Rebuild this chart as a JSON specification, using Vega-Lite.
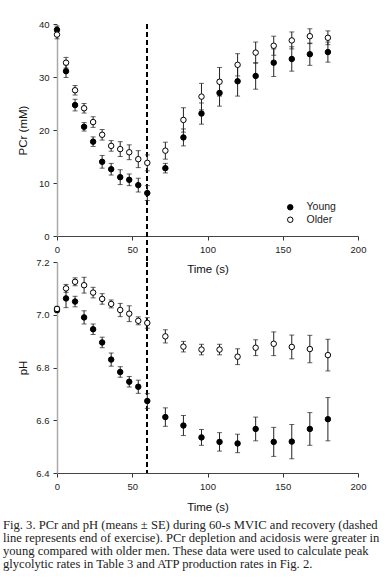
{
  "$schema": "https://vega.github.io/schema/vega-lite/v6.json",
  "padding": {"left": 3, "top": 19, "right": 0, "bottom": 0},
  "background": "white",
  "config": {
    "view": {"stroke": null},
    "font": "Liberation Sans",
    "axis": {"grid": false, "labelFont": "Liberation Sans", "titleFont": "Liberation Sans", "labelFontSize": 9.5, "titleFontSize": 11.5, "titleFontWeight": "normal", "labelColor": "#222", "titleColor": "#111", "tickColor": "#333", "tickSize": 4, "labelPadding": 4}
  },
  "datasets": {
    "pcr": [
      {"t": 0, "group": "Young", "mean": 38.9, "se": 0.7},
      {"t": 6, "group": "Young", "mean": 31.1, "se": 1.2},
      {"t": 12, "group": "Young", "mean": 24.7, "se": 1.1},
      {"t": 18, "group": "Young", "mean": 20.6, "se": 0.8},
      {"t": 24, "group": "Young", "mean": 17.8, "se": 0.9},
      {"t": 30, "group": "Young", "mean": 14.0, "se": 1.2},
      {"t": 36, "group": "Young", "mean": 12.6, "se": 1.1},
      {"t": 42, "group": "Young", "mean": 11.1, "se": 1.4},
      {"t": 48, "group": "Young", "mean": 10.6, "se": 1.1},
      {"t": 54, "group": "Young", "mean": 9.6, "se": 1.3},
      {"t": 60, "group": "Young", "mean": 8.1, "se": 1.4},
      {"t": 72, "group": "Young", "mean": 12.8, "se": 0.9},
      {"t": 84, "group": "Young", "mean": 18.6, "se": 1.6},
      {"t": 96, "group": "Young", "mean": 23.1, "se": 2.0},
      {"t": 108, "group": "Young", "mean": 27.0, "se": 2.5},
      {"t": 120, "group": "Young", "mean": 29.2, "se": 2.8},
      {"t": 132, "group": "Young", "mean": 30.2, "se": 2.5},
      {"t": 144, "group": "Young", "mean": 32.7, "se": 2.6},
      {"t": 156, "group": "Young", "mean": 33.4, "se": 2.3},
      {"t": 168, "group": "Young", "mean": 34.3, "se": 2.1},
      {"t": 180, "group": "Young", "mean": 34.7, "se": 1.9},
      {"t": 0, "group": "Older", "mean": 38.0, "se": 0.8},
      {"t": 6, "group": "Older", "mean": 32.7, "se": 1.0},
      {"t": 12, "group": "Older", "mean": 27.5, "se": 0.9},
      {"t": 18, "group": "Older", "mean": 24.1, "se": 0.9},
      {"t": 24, "group": "Older", "mean": 21.5, "se": 1.0},
      {"t": 30, "group": "Older", "mean": 19.1, "se": 1.0},
      {"t": 36, "group": "Older", "mean": 17.0, "se": 1.0},
      {"t": 42, "group": "Older", "mean": 16.4, "se": 1.4},
      {"t": 48, "group": "Older", "mean": 15.8, "se": 1.4},
      {"t": 54, "group": "Older", "mean": 14.5, "se": 1.6},
      {"t": 60, "group": "Older", "mean": 13.8, "se": 1.5},
      {"t": 72, "group": "Older", "mean": 16.1, "se": 1.6},
      {"t": 84, "group": "Older", "mean": 21.9, "se": 2.3},
      {"t": 96, "group": "Older", "mean": 26.3, "se": 2.5},
      {"t": 108, "group": "Older", "mean": 29.1, "se": 2.7},
      {"t": 120, "group": "Older", "mean": 32.3, "se": 2.1},
      {"t": 132, "group": "Older", "mean": 34.6, "se": 2.0},
      {"t": 144, "group": "Older", "mean": 35.9, "se": 1.8},
      {"t": 156, "group": "Older", "mean": 36.9, "se": 1.6},
      {"t": 168, "group": "Older", "mean": 37.7, "se": 1.4},
      {"t": 180, "group": "Older", "mean": 37.4, "se": 1.3}
    ],
    "ph": [
      {"t": 0, "group": "Young", "mean": 7.018, "se": 0.01},
      {"t": 6, "group": "Young", "mean": 7.062, "se": 0.035},
      {"t": 12, "group": "Young", "mean": 7.05, "se": 0.02},
      {"t": 18, "group": "Young", "mean": 6.99, "se": 0.025},
      {"t": 24, "group": "Young", "mean": 6.945, "se": 0.02},
      {"t": 30, "group": "Young", "mean": 6.895, "se": 0.02},
      {"t": 36, "group": "Young", "mean": 6.83, "se": 0.025},
      {"t": 42, "group": "Young", "mean": 6.783, "se": 0.02},
      {"t": 48, "group": "Young", "mean": 6.746, "se": 0.02},
      {"t": 54, "group": "Young", "mean": 6.727, "se": 0.025},
      {"t": 60, "group": "Young", "mean": 6.673, "se": 0.028},
      {"t": 72, "group": "Young", "mean": 6.612, "se": 0.035},
      {"t": 84, "group": "Young", "mean": 6.58, "se": 0.038},
      {"t": 96, "group": "Young", "mean": 6.535, "se": 0.03},
      {"t": 108, "group": "Young", "mean": 6.518, "se": 0.035},
      {"t": 120, "group": "Young", "mean": 6.512, "se": 0.035},
      {"t": 132, "group": "Young", "mean": 6.567, "se": 0.045},
      {"t": 144, "group": "Young", "mean": 6.518, "se": 0.055},
      {"t": 156, "group": "Young", "mean": 6.519, "se": 0.065},
      {"t": 168, "group": "Young", "mean": 6.567, "se": 0.062},
      {"t": 180, "group": "Young", "mean": 6.604, "se": 0.082},
      {"t": 0, "group": "Older", "mean": 7.022, "se": 0.01},
      {"t": 6, "group": "Older", "mean": 7.1, "se": 0.015},
      {"t": 12, "group": "Older", "mean": 7.125, "se": 0.015},
      {"t": 18, "group": "Older", "mean": 7.112, "se": 0.03},
      {"t": 24, "group": "Older", "mean": 7.084, "se": 0.02},
      {"t": 30, "group": "Older", "mean": 7.06, "se": 0.02},
      {"t": 36, "group": "Older", "mean": 7.041, "se": 0.015},
      {"t": 42, "group": "Older", "mean": 7.018, "se": 0.025},
      {"t": 48, "group": "Older", "mean": 7.004, "se": 0.03},
      {"t": 54, "group": "Older", "mean": 6.977, "se": 0.015},
      {"t": 60, "group": "Older", "mean": 6.969, "se": 0.02},
      {"t": 72, "group": "Older", "mean": 6.918, "se": 0.025},
      {"t": 84, "group": "Older", "mean": 6.879, "se": 0.02},
      {"t": 96, "group": "Older", "mean": 6.868, "se": 0.02},
      {"t": 108, "group": "Older", "mean": 6.868, "se": 0.02},
      {"t": 120, "group": "Older", "mean": 6.841, "se": 0.03},
      {"t": 132, "group": "Older", "mean": 6.875, "se": 0.03},
      {"t": 144, "group": "Older", "mean": 6.89, "se": 0.045},
      {"t": 156, "group": "Older", "mean": 6.878, "se": 0.045},
      {"t": 168, "group": "Older", "mean": 6.87, "se": 0.052},
      {"t": 180, "group": "Older", "mean": 6.847, "se": 0.06}
    ]
  },
  "bounds": "flush",
  "spacing": 26,
  "resolve": {"scale": {"fill": "independent", "x": "independent", "y": "independent"}, "legend": {"fill": "independent"}},
  "vconcat": [
    {
      "width": 301,
      "height": 212,
      "data": {"name": "pcr"},
      "layer": [
        {
          "mark": {"type": "rule", "strokeDash": [5, 3], "color": "black", "strokeWidth": 1.1},
          "encoding": {"x": {"datum": 60, "type": "quantitative"}, "y": {"datum": 40, "type": "quantitative"}, "y2": {"datum": -5}}
        },
        {
          "mark": {"type": "errorbar", "ticks": {"size": 5, "color": "#222", "strokeWidth": 1}, "rule": {"color": "#222", "strokeWidth": 1}},
          "encoding": {
            "x": {"field": "t", "type": "quantitative", "title": "Time (s)"},
            "y": {"field": "mean", "type": "quantitative", "title": "PCr (mM)"},
            "yError": {"field": "se"},
            "detail": {"field": "group"}
          }
        },
        {
          "mark": {"type": "point", "filled": true, "stroke": "black", "strokeWidth": 1, "size": 30, "opacity": 1, "shape": "circle"},
          "encoding": {
            "x": {"field": "t", "type": "quantitative", "title": "Time (s)", "scale": {"domain": [0, 200], "nice": false}, "axis": {"values": [0, 50, 100, 150, 200], "titlePadding": 10, "domainColor": "#444", "labelFlush": false}},
            "y": {"field": "mean", "type": "quantitative", "title": "PCr (mM)", "scale": {"domain": [0, 40], "nice": false}, "axis": {"values": [0, 10, 20, 30, 40], "titlePadding": 10, "domainColor": "#aaa", "domainWidth": 1.5}},
            "fill": {"field": "group", "type": "nominal", "scale": {"domain": ["Young", "Older"], "range": ["black", "white"]},
              "legend": {"title": null, "orient": "none", "legendX": 228, "legendY": 178, "symbolType": "circle", "symbolSize": 30, "symbolStrokeColor": "black", "symbolStrokeWidth": 1, "labelFontSize": 10.5, "labelFont": "Liberation Sans", "labelColor": "#222", "labelOffset": 11, "rowPadding": 1.5, "padding": 0}}
          }
        }
      ]
    },
    {
      "width": 301,
      "height": 211,
      "data": {"name": "ph"},
      "title": {
        "text": [
          "Fig. 3. PCr and pH (means ± SE) during 60-s MVIC and recovery (dashed",
          "line represents end of exercise). PCr depletion and acidosis were greater in",
          "young compared with older men. These data were used to calculate peak",
          "glycolytic rates in Table 3 and ATP production rates in Fig. 2."
        ],
        "orient": "bottom",
        "anchor": "start",
        "frame": "group",
        "dx": -54,
        "offset": 6,
        "font": "Liberation Serif",
        "fontSize": 12.6,
        "fontWeight": "normal",
        "lineHeight": 13,
        "color": "#222"
      },
      "layer": [
        {
          "mark": {"type": "rule", "strokeDash": [5, 3], "color": "black", "strokeWidth": 1.1},
          "encoding": {"x": {"datum": 60, "type": "quantitative"}}
        },
        {
          "mark": {"type": "errorbar", "ticks": {"size": 5, "color": "#222", "strokeWidth": 1}, "rule": {"color": "#222", "strokeWidth": 1}},
          "encoding": {
            "x": {"field": "t", "type": "quantitative", "title": "Time (s)"},
            "y": {"field": "mean", "type": "quantitative", "title": "pH"},
            "yError": {"field": "se"},
            "detail": {"field": "group"}
          }
        },
        {
          "mark": {"type": "point", "filled": true, "stroke": "black", "strokeWidth": 1, "size": 30, "opacity": 1, "shape": "circle"},
          "encoding": {
            "x": {"field": "t", "type": "quantitative", "title": "Time (s)", "scale": {"domain": [0, 200], "nice": false}, "axis": {"values": [0, 50, 100, 150, 200], "titlePadding": 11, "domainColor": "#444", "labelFlush": false}},
            "y": {"field": "mean", "type": "quantitative", "title": "pH", "scale": {"domain": [6.4, 7.2], "nice": false, "zero": false}, "axis": {"values": [6.4, 6.6, 6.8, 7.0, 7.2], "format": ".1f", "titlePadding": 7, "domainColor": "#aaa", "domainWidth": 1.5}},
            "fill": {"field": "group", "type": "nominal", "scale": {"domain": ["Young", "Older"], "range": ["black", "white"]}, "legend": null}
          }
        }
      ]
    }
  ]
}
